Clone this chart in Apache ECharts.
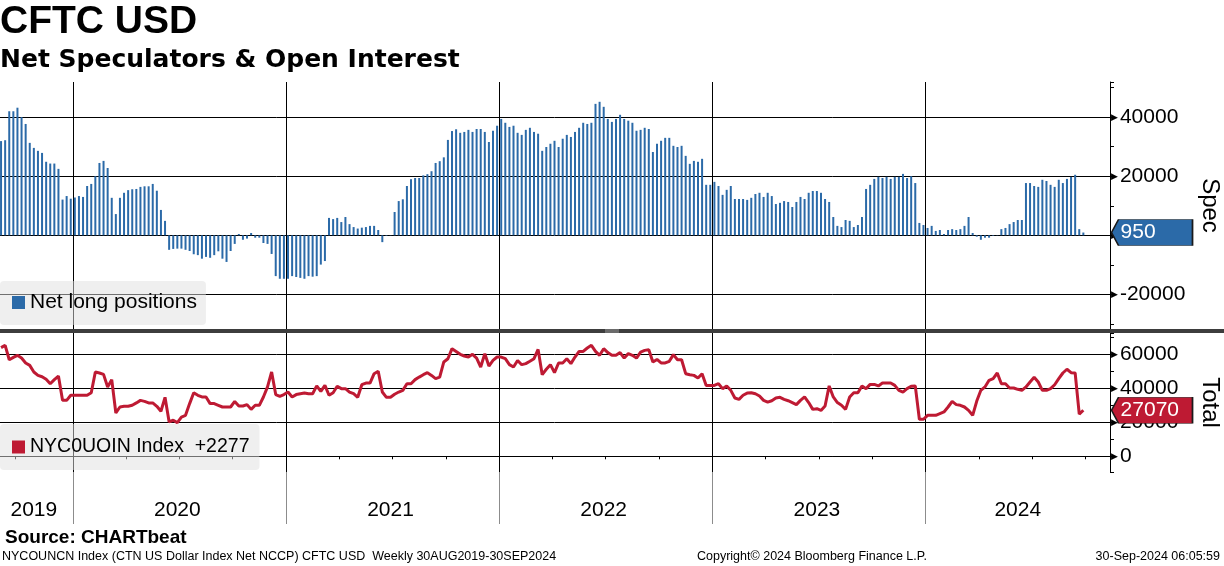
<!DOCTYPE html>
<html><head><meta charset="utf-8">
<script src="https://cdn.jsdelivr.net/npm/echarts@6/dist/echarts.min.js"></script>
<style>html,body{margin:0;padding:0;background:#fff}#c{width:1224px;height:566px}</style>
</head><body><div id="c"></div>
<script>
// ---- data ----
const startDate = '2019-09-03';   // first weekly observation
const weeksOnAxis = 271;          // axis runs a few weeks past the last observation
const yearLabels = ['2019', '2020', '2021', '2022', '2023', '2024'];
const oiChange = 2277;

const netSpec = [
31900,32200,42000,42000,43200,40000,37700,31300,29600,28600,
27900,24900,24300,24300,22500,12100,13300,12400,12800,13300,
13000,16700,17400,20000,24500,25200,22800,12700,7200,12700,
14400,15300,15600,15700,16400,16600,16600,17400,15100,8600,
4900,-4900,-4600,-4500,-4500,-4900,-5300,-6400,-6700,-7900,
-7300,-7600,-6700,-5400,
-7900,-9000,-5300,-2900,450,-1500,-1100,800,-800,-800,
-2600,-2900,-6300,-13800,-14700,-14700,-14700,-13800,-14100,-14400,
-14700,-13800,-14000,-13800,-9900,-8700,5900,5500,5900,4500,
6200,3800,2800,2300,2600,2800,3200,3200,1800,-2300,
-200,-100,7900,11600,12200,16700,19000,19400,19400,20300,
20700,21700,24500,
25100,26400,32300,35300,35900,34700,35000,35700,35000,36000,
36000,35000,31600,35400,37100,39400,38100,36700,37100,34700,
34000,35700,36400,35000,34400,28600,29900,31000,32000,29900,
32700,34000,33300,35000,36400,38100,37700,38100,44500,45200,
43500,39400,38400,39400,40800,39400,38800,38100,35400,35700,
36400,36000,28200,
31000,32000,33000,33000,30300,29900,30300,26900,24200,25200,
24900,25900,17100,17100,18100,16700,13700,15400,16700,12300,
12300,12300,12000,12700,14000,14400,13000,14400,13300,10600,
11000,11600,11300,9600,11300,13000,12300,14400,15000,15000,
14400,12300,11300,6200,3200,2800,5200,4900,2800,3500,
6200,15700,17100,
19100,19800,19400,19800,19100,19800,19800,20800,19400,20000,
17700,4200,3500,2500,3200,1500,1800,450,1800,2100,
1800,2100,3200,6200,800,-450,-1500,-800,-800,-200,
-100,2100,2500,3800,4500,5200,5200,17700,17700,16700,
16400,18800,18400,17100,16400,18800,17700,19100,19800,20500,
2100,950
];

const openInterest = [
63900,65300,56800,58200,59400,57800,54900,53500,49600,47600,
46800,45300,42700,45100,47200,32900,32900,35900,35900,35900,
35900,35900,37400,49600,49000,48200,40800,45100,25500,29000,
29400,29400,30000,31400,32900,32300,31400,31400,29400,26500,
34700,20200,21200,19800,23100,24100,31000,37400,35900,34900,
34900,31000,31000,30000,
29000,29000,29000,32300,29600,29600,30400,27600,30000,30000,
34900,40800,49600,36300,35300,36300,37800,34900,36300,36800,
37200,36800,36800,41400,38200,41700,35900,37400,41200,39800,
39800,37800,36800,34700,42100,43100,43100,48600,50000,37800,
34700,34700,36500,37800,38800,42700,42700,45100,46600,48000,
49200,47600,45700,
46600,55500,57400,63300,61700,60000,59000,58400,60000,57800,
52500,60400,53100,56400,58400,58400,57400,53900,52500,56400,
53900,54500,55900,57400,62900,48000,51200,53900,49200,54900,
54900,57400,54500,58400,61700,61700,63700,65300,61700,59400,
63300,61000,59400,59400,61000,57800,60400,59400,57800,61300,
62300,62700,55500,
57000,54900,54900,55900,59800,56800,56800,48600,48000,47600,
46100,48600,41700,41700,41700,42700,39800,41400,38800,34300,
33500,35900,37200,37400,36800,35500,32900,31900,32700,34300,
34700,33500,32700,31600,30400,32900,34900,31600,27600,28000,
27000,29600,41400,34900,31600,30000,27600,34900,37400,37400,
41400,39800,42300,42300,
41400,43100,43100,43100,41700,38800,37800,39800,41200,41400,
21800,21800,24100,24100,24100,25100,26100,29000,32300,30400,
30000,29000,27000,24100,32500,38800,40800,44700,45700,49000,
42700,42700,40200,40200,39400,38800,40800,43700,46500,43700,
38800,38800,39800,42100,45700,49000,51200,49200,49000,24793,
27070
];

// ---- categories (weekly) and axis helpers ----
const categories = [];
const t0 = Date.parse(startDate + 'T00:00:00Z');
for (let i = 0; i < weeksOnAxis; i++) {
  categories.push(new Date(t0 + i * 7 * 86400000).toISOString().slice(0, 10));
}
const yearOf = i => +categories[i].slice(0, 4);
const quarterOf = i => Math.floor((+categories[i].slice(5, 7) - 1) / 3);
const yearStart = new Set([0]);
const quarterStart = new Set();
for (let i = 1; i < weeksOnAxis; i++) {
  if (yearOf(i) !== yearOf(i - 1)) yearStart.add(i);
  if (yearOf(i) !== yearOf(i - 1) || quarterOf(i) !== quarterOf(i - 1)) quarterStart.add(i);
}
const yearLabelIdx = new Map();
yearLabels.forEach(y => {
  let first = -1, last = -1;
  categories.forEach((c, i) => { if (c.slice(0, 4) === y) { if (first < 0) first = i; last = i; } });
  if (first >= 0) yearLabelIdx.set(Math.floor((first + last) / 2), y);
});

const F = 'Liberation Sans';
const yearSplit = (color) => ({show: true, interval: i => yearStart.has(i), showMinLine: false, showMaxLine: false,
  lineStyle: {color: color, width: 1}});
const baseX = {type: 'category', data: categories, boundaryGap: true,
  axisLabel: {show: false}, axisTick: {show: false}, axisLine: {show: false}};

function majorY(grid, min, max, name) {
  return {type: 'value', gridIndex: grid, position: 'right', min: min, max: max,
    minInterval: 20000, maxInterval: 20000,
    axisLine: {show: true, lineStyle: {color: '#000', width: 1}},
    axisTick: {show: false},
    axisLabel: {showMinLabel: false, showMaxLabel: false, margin: 1,
      formatter: v => '{t|\u25B6}{v|' + String(v) + '}',
      rich: {t: {fontSize: 9, fontFamily: 'DejaVu Sans', color: '#000', padding: [0, 2, 0, 0]},
             v: {fontSize: 21, fontFamily: F, color: '#000'}}},
    splitLine: {show: true, showMinLine: false, showMaxLine: false, lineStyle: {color: '#000', width: 1}},
    name: name, nameLocation: 'middle', nameRotate: -90, nameGap: 88,
    nameTextStyle: {fontSize: 24, fontFamily: F, color: '#000'}};
}
function minorY(grid, min, max) {
  return {type: 'value', gridIndex: grid, position: 'right', offset: 0, min: min, max: max,
    minInterval: 10000, maxInterval: 10000,
    axisLine: {show: false}, axisLabel: {show: false}, splitLine: {show: false},
    axisTick: {show: true, length: 4, lineStyle: {color: '#000', width: 1}}};
}
function tag(color, idx, value) {
  return {
    symbol: 'path://M0,13L7,0L81,0L81,26L7,26Z', symbolSize: [81, 26],
    itemStyle: {color: color, borderColor: '#1a1a1a', borderWidth: 1},
    label: {show: true, position: 'insideLeft', distance: 10, color: '#fff', fontSize: 21, fontFamily: F,
      formatter: p => String(p.value)},
    data: [{coord: [idx, value], value: value, x: 1152}]
  };
}

const chart = echarts.init(document.getElementById('c'), null, {renderer: 'canvas'});
chart.setOption({
  animation: false,
  backgroundColor: '#fff',
  textStyle: {fontFamily: F},
  title: [
    {text: 'CFTC USD', left: 0, top: 3, padding: 0, textStyle: {fontFamily: F, fontWeight: 'bold', fontSize: 39, color: '#000'}},
    {text: 'Net Speculators & Open Interest', left: 0, top: 48, padding: 0, textStyle: {fontFamily: 'DejaVu Sans', fontWeight: 'bold', fontSize: 25, color: '#000'}},
    {text: 'Source: CHARTbeat', left: 5, top: 528, padding: 0, textStyle: {fontFamily: F, fontWeight: 'bold', fontSize: 19, color: '#000'}},
    {text: 'NYCOUNCN Index (CTN US Dollar Index Net NCCP) CFTC USD  Weekly 30AUG2019-30SEP2024', left: 2, top: 550, padding: 0, textStyle: {fontFamily: F, fontWeight: 'normal', fontSize: 12.5, color: '#000'}},
    {text: 'Copyright\u00A9 2024 Bloomberg Finance L.P.', left: 697, top: 550, padding: 0, textStyle: {fontFamily: F, fontWeight: 'normal', fontSize: 12.5, color: '#000'}},
    {text: '30-Sep-2024 06:05:59', right: 4, top: 550, padding: 0, textStyle: {fontFamily: F, fontWeight: 'normal', fontSize: 12.5, color: '#000'}}
  ],
  legend: [
    {data: ['Net long positions'], left: 0, top: 281, icon: 'rect', itemWidth: 13, itemHeight: 13, selectedMode: false,
      textStyle: {fontSize: 21, fontFamily: F, color: '#000'},
      backgroundColor: 'rgba(224,224,224,0.5)', borderRadius: 4, padding: [11, 9, 12, 12]},
    {data: ['NYC0UOIN Index'], left: 0, top: 424, icon: 'rect', itemWidth: 13, itemHeight: 13, selectedMode: false,
      formatter: n => n + '  +' + oiChange,
      textStyle: {fontSize: 19.5, fontFamily: F, color: '#000'},
      backgroundColor: 'rgba(224,224,224,0.5)', borderRadius: 4, padding: [13, 10, 13, 12]}
  ],
  grid: [
    {left: -1, right: 114, top: 82, height: 247, outerBoundsMode: 'none'},
    {left: -1, right: 114, top: 333, height: 139, outerBoundsMode: 'none'},
    {left: -1, right: 114, top: 472, height: 52, outerBoundsMode: 'none'}
  ],
  xAxis: [
    Object.assign({}, baseX, {gridIndex: 0, splitLine: yearSplit('#000')}),
    Object.assign({}, baseX, {gridIndex: 1, splitLine: yearSplit('#000'),
      axisLine: {show: true, lineStyle: {color: '#000', width: 1}},
      axisTick: {show: true, interval: i => quarterStart.has(i), length: 3, lineStyle: {color: '#000', width: 1}},
      axisLabel: {show: true, interval: i => yearLabelIdx.has(i), formatter: (v, i) => yearLabelIdx.get(i) || '',
        margin: 28, fontSize: 21, fontFamily: F, color: '#000'}}),
    Object.assign({}, baseX, {gridIndex: 2, splitLine: yearSplit('#8c8c8c')})
  ],
  yAxis: [
    majorY(0, -31700, 51900, 'Spec'),
    minorY(0, -31700, 51900),
    majorY(1, -9240, 72530, 'Total'),
    minorY(1, -9240, 72530),
    {type: 'value', gridIndex: 2, show: false}
  ],
  series: [
    {type: 'bar', name: 'Net long positions', xAxisIndex: 0, yAxisIndex: 0, data: netSpec, barWidth: 2,
      itemStyle: {color: '#2b6aa8'},
      markPoint: tag('#2b6aa8', netSpec.length - 1, netSpec[netSpec.length - 1])},
    {type: 'line', name: 'NYC0UOIN Index', xAxisIndex: 1, yAxisIndex: 2, data: openInterest,
      symbol: 'none', lineStyle: {color: '#be1a33', width: 3}, itemStyle: {color: '#be1a33'},
      markPoint: tag('#be1a33', openInterest.length - 1, openInterest[openInterest.length - 1])}
  ],
  graphic: [
    {type: 'rect', z: 100, shape: {x: 0, y: 329, width: 1224, height: 4}, style: {fill: '#3d3d3d'}},
    {type: 'rect', z: 101, shape: {x: 605, y: 329.5, width: 14, height: 1}, style: {fill: '#9a9a9a'}},
    {type: 'rect', z: 101, shape: {x: 605, y: 331.5, width: 14, height: 1}, style: {fill: '#9a9a9a'}}
  ]
});
</script>
</body></html>
